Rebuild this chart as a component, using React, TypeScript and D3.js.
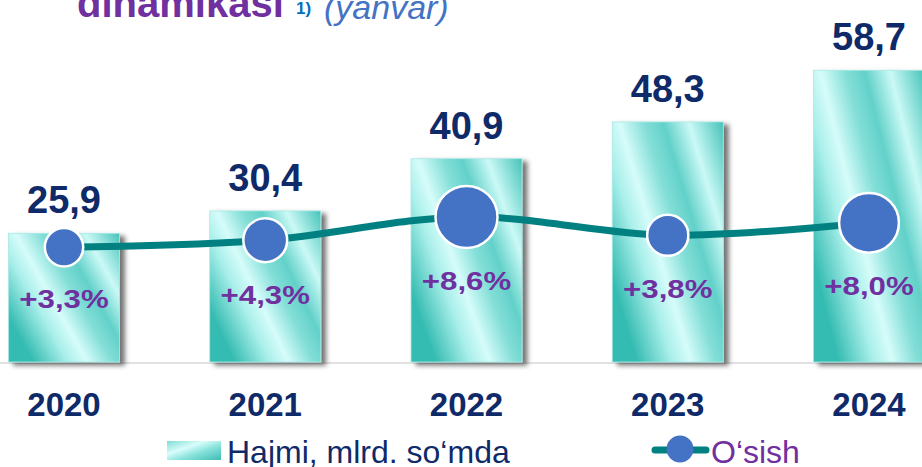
import React from "react";
import * as d3 from "d3";

const years = ["2020", "2021", "2022", "2023", "2024"];
const volume = [25.9, 30.4, 40.9, 48.3, 58.7];
const volumeLabels = ["25,9", "30,4", "40,9", "48,3", "58,7"];
const growth = [3.3, 4.3, 8.6, 3.8, 8.0];
const growthLabels = ["+3,3%", "+4,3%", "+8,6%", "+3,8%", "+8,0%"];
// vertical level of the growth markers, in the units of the volume axis
const markerLevel = [23.1, 24.5, 29.2, 25.5, 28.0];

const W = 922;
const H = 467;
const NAVY = "#0f2a68";
const PURPLE = "#7030a0";
const TEAL = "#008080";
const BLUE = "#4472c4";

export default function App() {
  const x = d3.scalePoint<string>().domain(years).range([64, 869]);
  const y = d3.scaleLinear().domain([0, 60]).range([362, 63.8]);
  const r = d3.scaleSqrt().domain([0, 8.6]).range([0, 31]);
  const barW = 111;

  const line = d3
    .line<number>()
    .x((_, i) => x(years[i]) as number)
    .y((d) => y(d))
    .curve(d3.curveCatmullRom.alpha(0.5));

  const font = "'Liberation Sans', Arial, sans-serif";

  return (
    <svg
      width={W}
      height={H}
      style={{ position: "absolute", left: 0, top: 0, background: "#fff" }}
      fontFamily={font}
    >
      <defs>
        <linearGradient id="barGrad" x1="0" y1="0.65" x2="1" y2="0">
          <stop offset="0" stopColor="#36bcb2" />
          <stop offset="0.22" stopColor="#a9efea" />
          <stop offset="0.34" stopColor="#d6fcfa" />
          <stop offset="0.5" stopColor="#82ded7" />
          <stop offset="0.62" stopColor="#62d1c9" />
          <stop offset="0.78" stopColor="#cbf9f6" />
          <stop offset="1" stopColor="#45c3b9" />
        </linearGradient>
        <linearGradient id="legGrad" x1="0" y1="0" x2="1" y2="1">
          <stop offset="0" stopColor="#7fdcd5" />
          <stop offset="0.35" stopColor="#d8fdfb" />
          <stop offset="0.6" stopColor="#8ae3dc" />
          <stop offset="1" stopColor="#3cbdb3" />
        </linearGradient>
        <filter id="shadow" x="-20%" y="-20%" width="150%" height="140%">
          <feDropShadow dx="5" dy="3" stdDeviation="2.5" floodColor="#000" floodOpacity="0.55" />
        </filter>
      </defs>

      {/* title fragment */}
      <text x={77} y={17} fontSize={40} fontWeight="bold" fill={PURPLE}>
        dinamikasi
      </text>
      <text x={296} y={14} fontSize={17} fontWeight="bold" fill="#0070c0">
        1)
      </text>
      <text x={324} y={19} fontSize={34} fontStyle="italic" fill={BLUE}>
        (yanvar)
      </text>

      {/* baseline */}
      <line x1={0} x2={W} y1={y(0) + 1} y2={y(0) + 1} stroke="#d9d9d9" strokeWidth={1.5} />

      {/* bars */}
      {volume.map((v, i) => (
        <rect
          key={years[i]}
          x={(x(years[i]) as number) - barW / 2}
          y={y(v)}
          width={barW}
          height={y(0) - y(v)}
          fill="url(#barGrad)"
          stroke="#a8e8e3"
          strokeWidth={0.8}
          filter="url(#shadow)"
        />
      ))}

      {/* value labels */}
      {volume.map((v, i) => (
        <text
          key={"v" + i}
          x={x(years[i]) as number}
          y={y(v) - 20}
          textAnchor="middle"
          fontSize={38}
          fontWeight="bold"
          fill={NAVY}
        >
          {volumeLabels[i]}
        </text>
      ))}

      {/* growth line */}
      <path d={line(markerLevel) || ""} fill="none" stroke={TEAL} strokeWidth={7} />
      {markerLevel.map((m, i) => (
        <circle
          key={"c" + i}
          cx={x(years[i]) as number}
          cy={y(m)}
          r={r(growth[i])}
          fill={BLUE}
          stroke="#fff"
          strokeWidth={2.5}
        />
      ))}

      {/* growth labels */}
      {markerLevel.map((m, i) => {
        const cx = x(years[i]) as number;
        const cy = y(m) + r(growth[i]) + 42;
        return (
          <g key={"g" + i} transform={`translate(${cx},${cy}) scale(1.2,1)`}>
            <text textAnchor="middle" fontSize={26} fontWeight="bold" fill={PURPLE}>
              {growthLabels[i]}
            </text>
          </g>
        );
      })}

      {/* year labels */}
      {years.map((yr) => (
        <text
          key={"y" + yr}
          x={x(yr) as number}
          y={416}
          textAnchor="middle"
          fontSize={33}
          fontWeight="bold"
          fill={NAVY}
        >
          {yr}
        </text>
      ))}

      {/* legend */}
      <rect x={167} y={441} width={54} height={19} fill="url(#legGrad)" />
      <text x={227} y={463} fontSize={32} fill={NAVY}>
        Hajmi, mlrd. so‘mda
      </text>
      <line x1={655} x2={706} y1={450} y2={450} stroke={TEAL} strokeWidth={7} strokeLinecap="round" />
      <circle cx={680} cy={449} r={13.5} fill={BLUE} />
      <text x={711} y={463} fontSize={32} fill={PURPLE}>
        O‘sish
      </text>
    </svg>
  );
}
